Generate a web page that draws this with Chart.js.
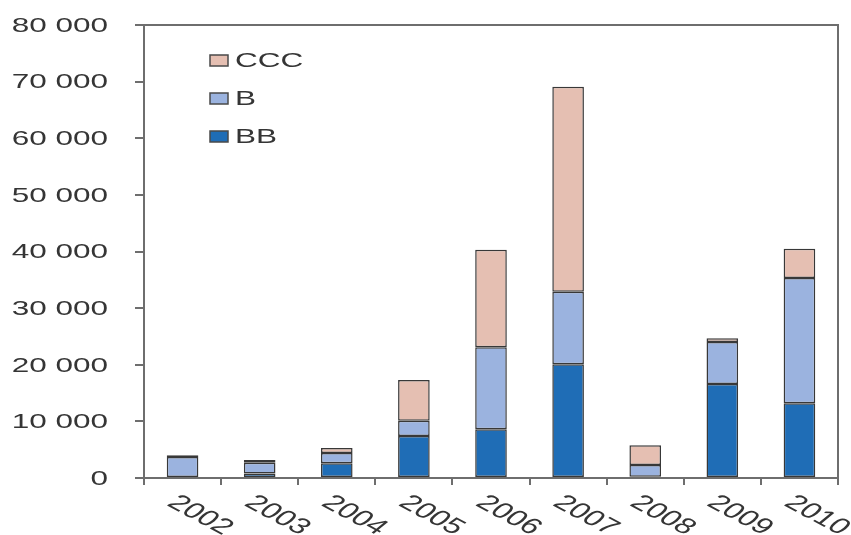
<!DOCTYPE html>
<html>
<head>
<meta charset="utf-8">
<script src="https://cdn.jsdelivr.net/npm/chart.js@4.4.0/dist/chart.umd.min.js"></script>
<style>
  body { margin: 0; background: #fff; }
  #wrap { width: 851px; height: 535px; }
</style>
</head>
<body>
<div id="wrap"><canvas id="chart"></canvas></div>
<script>
// data
const years = ["2002", "2003", "2004", "2005", "2006", "2007", "2008", "2009", "2010"];
const bbValues  = [0,    800,  2600, 7400, 8600,  20100, 200,  16600, 13200];
const bValues   = [3700, 1900, 1800, 2700, 14500, 12800, 2100, 7400,  22100];
const cccValues = [300,  500,  900,  7200, 17200, 36200, 3500, 700,   5200];

const FONT = "'Liberation Sans', Arial, sans-serif";
const TEXT = "#353535";
const AXIS = "#6e6e6e";
const STRETCH = 1.5; // the picture's text is wide

function fmt(v) {
  return String(v).replace(/\B(?=(\d{3})+(?!\d))/g, " ");
}

// box round the plot, wide tick labels, rotated years, legend inside the plot
const extras = {
  id: "extras",
  afterDraw(chart) {
    const ctx = chart.ctx;
    const a = chart.chartArea;
    const xs = chart.scales.x;
    const ys = chart.scales.y;

    ctx.save();
    ctx.strokeStyle = AXIS;
    ctx.lineWidth = 2;
    ctx.beginPath();
    ctx.moveTo(a.left, a.top);
    ctx.lineTo(a.right, a.top);
    ctx.lineTo(a.right, a.bottom);
    ctx.stroke();

    ctx.fillStyle = TEXT;
    ctx.font = "21px " + FONT;

    // y labels
    ctx.textAlign = "right";
    ctx.textBaseline = "middle";
    ys.ticks.forEach((t) => {
      const y = ys.getPixelForValue(t.value);
      ctx.save();
      ctx.translate(a.left - 36, y + 1);
      ctx.scale(STRETCH, 1);
      ctx.fillText(fmt(t.value), 0, 0);
      ctx.restore();
    });

    // x labels
    ctx.font = "22px " + FONT;
    ctx.textAlign = "left";
    years.forEach((yr, i) => {
      const x = xs.getPixelForValue(i);
      ctx.save();
      ctx.translate(x - 11, a.bottom + 22);
      ctx.scale(STRETCH, 1);
      ctx.rotate(39 * Math.PI / 180);
      ctx.fillText(yr, 0, 0);
      ctx.restore();
    });

    // legend, reversed order like the picture
    ctx.font = "21px " + FONT;
    const ds = chart.data.datasets.slice().reverse();
    ds.forEach((d, i) => {
      const cy = a.top + 35 + i * 38;
      ctx.fillStyle = d.backgroundColor;
      ctx.fillRect(a.left + 66, cy - 5, 18, 11);
      ctx.strokeStyle = "#4a4a4a";
      ctx.lineWidth = 1.5;
      ctx.strokeRect(a.left + 66, cy - 5, 18, 11);
      ctx.fillStyle = TEXT;
      ctx.save();
      ctx.translate(a.left + 91, cy + 1);
      ctx.scale(STRETCH, 1);
      ctx.textAlign = "left";
      ctx.fillText(d.label, 0, 0);
      ctx.restore();
    });
    ctx.restore();
  }
};

const ctx = document.getElementById("chart").getContext("2d");
new Chart(ctx, {
  type: "bar",
  data: {
    labels: years,
    datasets: [
      { label: "BB",  data: bbValues,  backgroundColor: "#1f6db6" },
      { label: "B",   data: bValues,   backgroundColor: "#9bb3df" },
      { label: "CCC", data: cccValues, backgroundColor: "#e5bfb2" }
    ]
  },
  options: {
    responsive: true,
    maintainAspectRatio: false,
    animation: false,
    layout: { padding: { top: 25, right: 13, left: 0, bottom: 0 } },
    datasets: {
      bar: {
        borderColor: "#383838",
        borderWidth: 1.5,
        borderSkipped: false,
        barPercentage: 0.41,
        categoryPercentage: 1
      }
    },
    plugins: {
      legend: { display: false },
      tooltip: { enabled: false }
    },
    scales: {
      x: {
        stacked: true,
        afterFit(s) { s.height = 57; },
        ticks: { display: false },
        grid: {
          drawOnChartArea: false,
          drawTicks: true,
          tickLength: 7,
          color: AXIS,
          lineWidth: 2
        },
        border: { color: AXIS, width: 2 }
      },
      y: {
        stacked: true,
        min: 0,
        max: 80000,
        afterFit(s) { s.width = 144; },
        ticks: { display: false, stepSize: 10000 },
        grid: {
          drawOnChartArea: false,
          drawTicks: true,
          tickLength: 9,
          color: AXIS,
          lineWidth: 2
        },
        border: { color: AXIS, width: 2 }
      }
    }
  },
  plugins: [extras]
});
</script>
</body>
</html>
